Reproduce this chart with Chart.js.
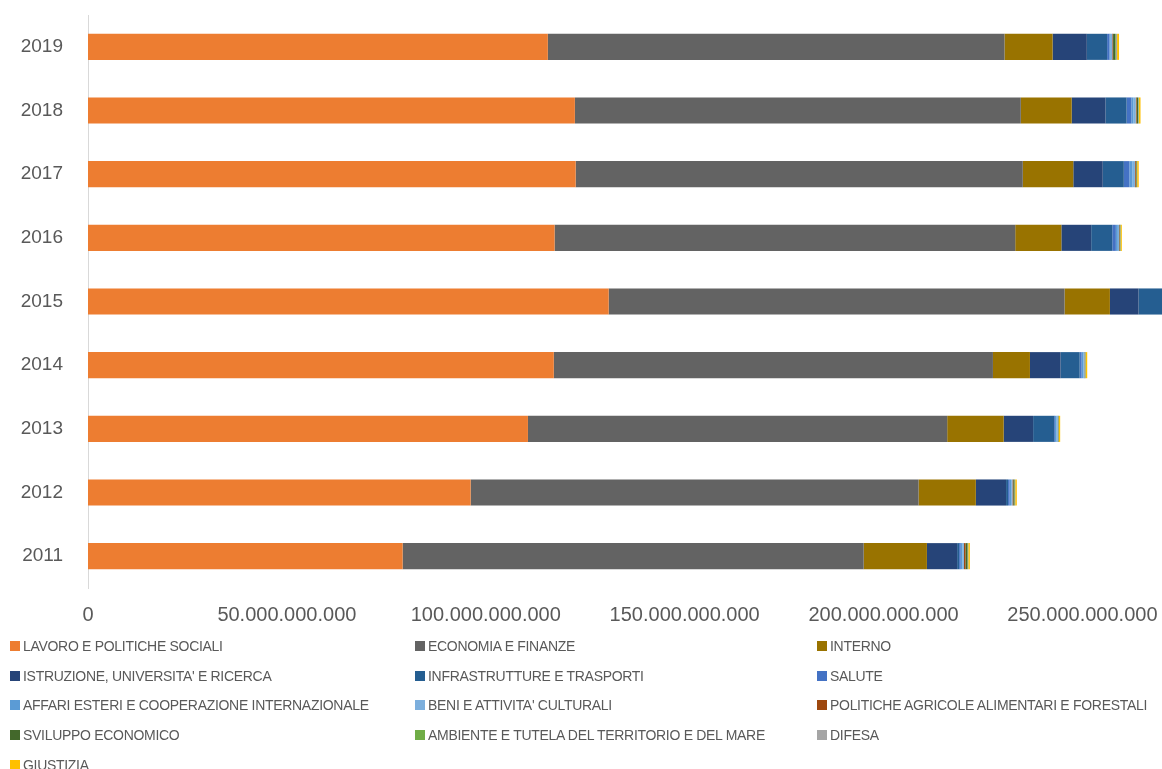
<!DOCTYPE html>
<html>
<head>
<meta charset="utf-8">
<script src="https://cdn.jsdelivr.net/npm/chart.js@4/dist/chart.umd.min.js"></script>
<style>
    body { margin: 0; background: #fff; overflow: hidden; }
    #wrap { position: relative; width: 1162px; height: 769px; }
    #box { position: absolute; left: 0; top: 0; width: 1162px; height: 634px; }
    #legend { position: absolute; left: 10px; top: 631px; width: 1152px;
        display: grid; grid-template-columns: 405px 402px 345px; grid-auto-rows: 29.7px;
        font-family: "Liberation Sans", Arial, sans-serif;
        font-size: 14px; letter-spacing: -0.3px; color: #595959; }
    #legend div { display: flex; align-items: center; white-space: nowrap; }
    #legend span.sq { display: inline-block; width: 10px; height: 10px; margin-right: 3px; }
</style>
</head>
<body>
<div id="wrap">
    <div id="box"><canvas id="graphCanvas"></canvas></div>
    <div id="legend"></div>
</div>
<script>
// anni, dall'alto verso il basso
var anni = ['2019', '2018', '2017', '2016', '2015', '2014', '2013', '2012', '2011'];

// valori in miliardi di euro
var lavoro = [115.6, 122.4, 122.6, 117.3, 130.9, 117.1, 110.6, 96.2, 79.1];
var economia = [114.8, 112.1, 112.4, 115.8, 114.6, 110.4, 105.4, 112.6, 115.9];
var interno = [12.1, 12.8, 12.7, 11.6, 11.4, 9.3, 14.2, 14.4, 15.9];
var istruzione = [8.6, 8.5, 7.4, 7.5, 7.2, 7.7, 7.4, 7.6, 7.6];
var infrastrutture = [5.1, 5.3, 5.3, 5.3, 6.0, 4.8, 5.3, 0.5, 0.5];
var salute = [0.6, 1.2, 1.4, 0.9, 1.0, 0.5, 0.2, 0.4, 0.4];
var affariEsteri = [0.3, 0.5, 0.8, 0.5, 0.5, 0.4, 0.3, 0.4, 0.4];
var beniCulturali = [0.4, 0.6, 0.6, 0.3, 0.5, 0.3, 0.4, 0.3, 0.4];
var politicheAgricole = [0.2, 0.2, 0.2, 0.1, 0.2, 0.05, 0.05, 0.2, 0.4];
var sviluppo = [0.5, 0.4, 0.2, 0.2, 0.3, 0.15, 0.1, 0.3, 0.5];
var ambiente = [0.2, 0.1, 0.1, 0.05, 0.1, 0.05, 0.05, 0.1, 0.1];
var difesa = [0.3, 0.1, 0.05, 0.05, 0.1, 0.05, 0.05, 0.1, 0.1];
var giustizia = [0.5, 0.4, 0.4, 0.3, 0.4, 0.4, 0.35, 0.4, 0.4];

var xTicks = [0, 50e9, 100e9, 150e9, 200e9, 250e9];

var serie = [
    ['LAVORO E POLITICHE SOCIALI', lavoro, '#ED7D31'],
    ['ECONOMIA E FINANZE', economia, '#636363'],
    ['INTERNO', interno, '#997300'],
    ["ISTRUZIONE, UNIVERSITA' E RICERCA", istruzione, '#264478'],
    ['INFRASTRUTTURE E TRASPORTI', infrastrutture, '#255E91'],
    ['SALUTE', salute, '#4472C4'],
    ['AFFARI ESTERI E COOPERAZIONE INTERNAZIONALE', affariEsteri, '#5B9BD5'],
    ["BENI E ATTIVITA' CULTURALI", beniCulturali, '#7CAFDD'],
    ['POLITICHE AGRICOLE ALIMENTARI E FORESTALI', politicheAgricole, '#9E480E'],
    ['SVILUPPO ECONOMICO', sviluppo, '#43682B'],
    ['AMBIENTE E TUTELA DEL TERRITORIO E DEL MARE', ambiente, '#70AD47'],
    ['DIFESA', difesa, '#A5A5A5'],
    ['GIUSTIZIA', giustizia, '#FFC000']
];

function formatta(v) {
    return String(Math.round(v)).replace(/\B(?=(\d{3})+(?!\d))/g, '.');
}

var datasets = [];
for (var i in serie) {
    datasets.push({
        label: serie[i][0],
        data: serie[i][1].map(function (v) { return v * 1e9; }),
        backgroundColor: serie[i][2],
        borderWidth: 0,
        barPercentage: 0.41,
        categoryPercentage: 1
    });
}

var fontAssi = '"Liberation Sans", Arial, sans-serif';

var barGraph = new Chart(document.getElementById('graphCanvas'), {
    type: 'bar',
    data: { labels: anni, datasets: datasets },
    options: {
        indexAxis: 'y',
        responsive: true,
        maintainAspectRatio: false,
        animation: false,
        layout: { padding: { top: 15, right: 0, left: 0, bottom: 0 } },
        plugins: { legend: { display: false }, tooltip: { enabled: false } },
        scales: {
            x: {
                stacked: true,
                min: 0,
                max: 270e9,
                grid: { display: false },
                border: { display: false },
                afterBuildTicks: function (scale) {
                    scale.ticks = xTicks.map(function (v) { return { value: v }; });
                },
                afterFit: function (scale) { scale.height = 46; scale.paddingRight = 0; scale.paddingLeft = 0; },
                ticks: {
                    color: '#595959',
                    font: { family: fontAssi, size: 20 },
                    maxRotation: 0,
                    padding: 7,
                    callback: function (v) { return formatta(v); }
                }
            },
            y: {
                stacked: true,
                grid: { display: false },
                border: { display: true, color: '#d9d9d9', width: 1 },
                afterFit: function (scale) { scale.width = 88; scale.paddingTop = 0; scale.paddingBottom = 0; },
                ticks: {
                    color: '#595959',
                    font: { family: fontAssi, size: 19 },
                    padding: 17
                }
            }
        }
    }
});

var legend = document.getElementById('legend');
for (var j in serie) {
    var item = document.createElement('div');
    var sq = document.createElement('span');
    sq.className = 'sq';
    sq.style.background = serie[j][2];
    item.appendChild(sq);
    item.appendChild(document.createTextNode(serie[j][0]));
    legend.appendChild(item);
}
</script>
</body>
</html>
